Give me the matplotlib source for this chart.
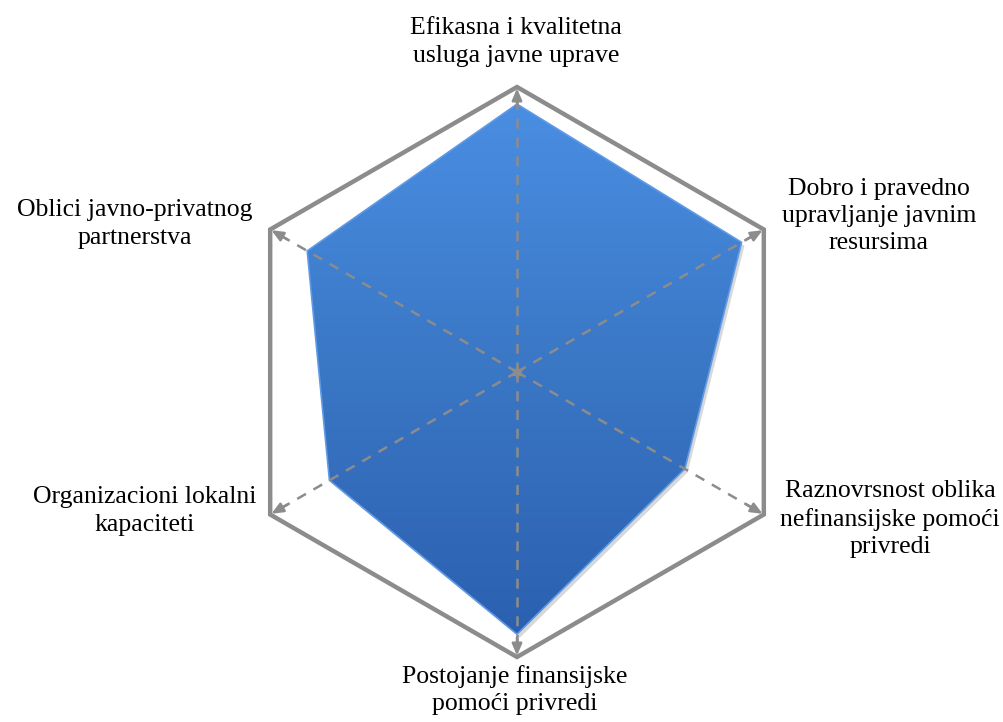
import numpy as np
import matplotlib
matplotlib.use("Agg")
import matplotlib.pyplot as plt
from matplotlib.patches import Polygon
from matplotlib.colors import LinearSegmentedColormap

# ---------- DATA ----------
categories = [
    "Efikasna i kvalitetna\nusluga javne uprave",
    "Dobro i pravedno\nupravljanje javnim\nresursima",
    "Raznovrsnost oblika\nnefinansijske pomoći\nprivredi",
    "Postojanje finansijske\npomoći privredi",
    "Organizacioni lokalni\nkapaciteti",
    "Oblici javno-privatnog\npartnerstva",
]
values = [4.7, 4.55, 3.4, 4.6, 3.8, 4.25]
max_value = 5.0

# ---------- LAYOUT ----------
W, H, DPI = 1004, 722, 100
CX, CY = 517, 372          # centre in pixels
PX_PER_UNIT = 57.0

plt.rcParams['font.family'] = ['Liberation Serif', 'DejaVu Serif']

fig = plt.figure(figsize=(W / DPI, H / DPI), dpi=DPI)
ax = fig.add_axes([0, 0, 1, 1])
ax.set_xlim(-CX / PX_PER_UNIT, (W - CX) / PX_PER_UNIT)
ax.set_ylim(-(H - CY) / PX_PER_UNIT, CY / PX_PER_UNIT)
ax.set_aspect('equal')
ax.axis('off')

n = len(categories)
angles = np.pi / 2 - np.arange(n) * 2 * np.pi / n
vals = np.array(values)

# outer frame
fx = max_value * np.cos(angles)
fy = max_value * np.sin(angles)
ax.add_patch(Polygon(np.column_stack([fx, fy]), closed=True, fill=False,
                     edgecolor='#8c8c8c', lw=3.2, joinstyle='miter', zorder=1))

# data polygon
px = vals * np.cos(angles)
py = vals * np.sin(angles)
pts = np.column_stack([px, py])

shadow = Polygon(pts + np.array([0.05, -0.06]), closed=True, facecolor='#7f7f7f',
                 edgecolor='none', alpha=0.3, zorder=2)
ax.add_patch(shadow)

poly = Polygon(pts, closed=True, facecolor='none', edgecolor='none', zorder=3)
ax.add_patch(poly)
cmap = LinearSegmentedColormap.from_list('blue_grad', ['#2b60b0', '#3a77c5', '#4a8ee2'])
grad = np.linspace(0, 1, 256).reshape(-1, 1)
img = ax.imshow(grad, cmap=cmap, origin='lower', aspect='auto',
                extent=[px.min(), px.max(), py.min(), py.max()], zorder=3)
img.set_clip_path(poly)
ax.add_patch(Polygon(pts, closed=True, fill=False, edgecolor='#5f9ae6',
                     lw=1.2, zorder=4))

# spokes with arrowheads
for a in angles:
    ex, ey = max_value * np.cos(a), max_value * np.sin(a)
    ax.plot([0, ex * 0.97], [0, ey * 0.97], color='#8c8c8c', lw=1.8,
            dashes=(4, 3.5), zorder=5)
    ax.annotate('', xy=(ex, ey), xytext=(ex * 0.93, ey * 0.93),
                arrowprops=dict(arrowstyle='-|>,head_length=0.7,head_width=0.3',
                                color='#8c8c8c', lw=1.8, shrinkA=0, shrinkB=1),
                zorder=6)
ax.plot([0], [0], marker=(6, 1, 0), color='#8c8c8c', markersize=9, zorder=6)

# labels (pixel positions of label centres)
label_px = [(516, 42), (879, 216), (890, 519), (515, 690), (145, 511), (135, 224)]
for text, (lx, ly) in zip(categories, label_px):
    ax.text((lx - CX) / PX_PER_UNIT, (CY - ly) / PX_PER_UNIT, text,
            ha='center', va='center', fontsize=18.5, linespacing=1.3,
            color='black', zorder=7)

fig.savefig('out.png', dpi=DPI)
